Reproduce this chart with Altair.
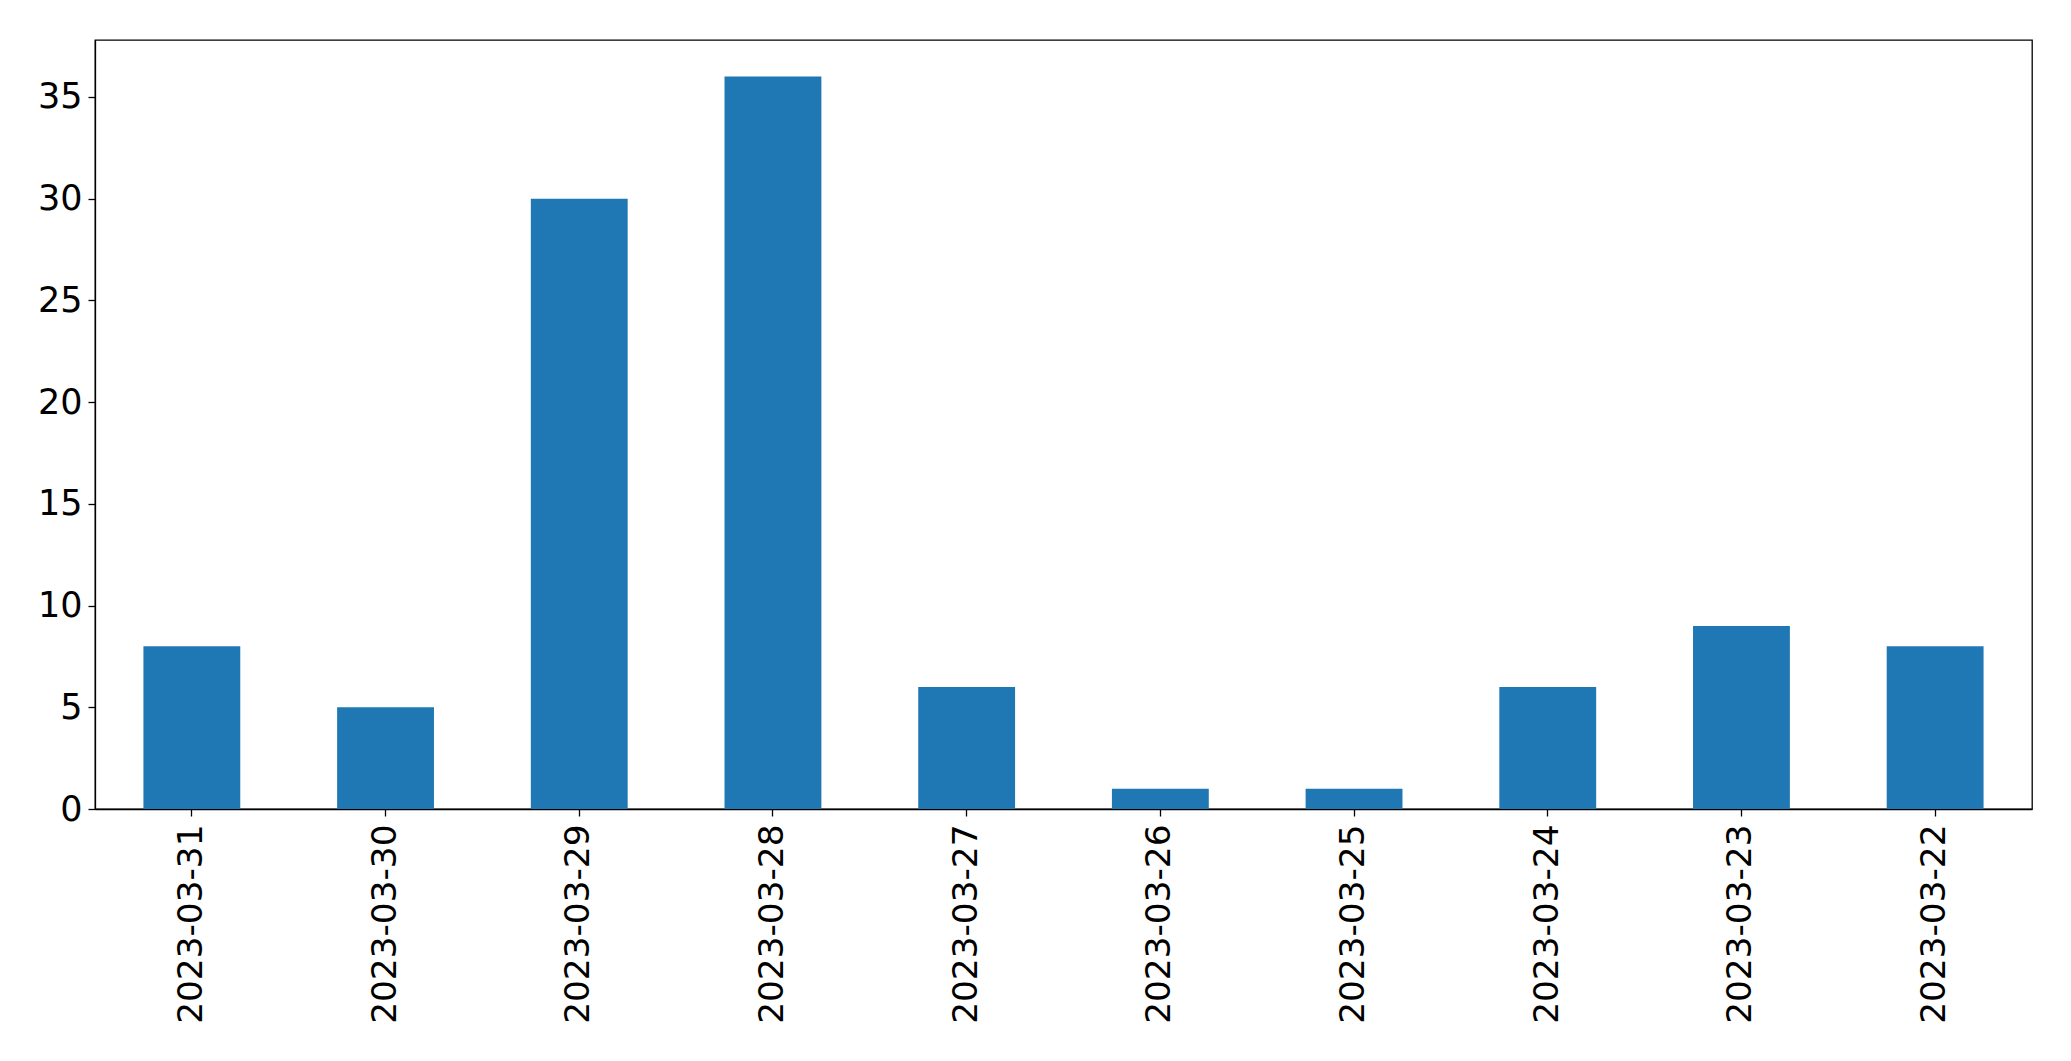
import altair as alt
import pandas as pd

dates = ["2023-03-31", "2023-03-30", "2023-03-29", "2023-03-28", "2023-03-27",
         "2023-03-26", "2023-03-25", "2023-03-24", "2023-03-23", "2023-03-22"]
counts = [8, 5, 30, 36, 6, 1, 1, 6, 9, 8]
y_ticks = [0, 5, 10, 15, 20, 25, 30, 35]

df = pd.DataFrame({"date": dates, "count": counts})

FONT = "DejaVu Sans"

chart = alt.Chart(df).mark_bar(color="#1f77b4").encode(
    x=alt.X("date:N", sort=dates,
            scale=alt.Scale(paddingInner=0.5, paddingOuter=0.25),
            axis=alt.Axis(title=None, labelAngle=270, labelFontSize=34.3,
                          labelFont=FONT, labelColor="black", labelLimit=0,
                          domainColor="black", domainWidth=1.3,
                          tickColor="black", tickWidth=1.3, tickSize=7,
                          labelPadding=8, labelBaseline="middle", labelAlign="right")),
    y=alt.Y("count:Q",
            scale=alt.Scale(domain=[0, 37.8], nice=False, zero=True),
            axis=alt.Axis(title=None, values=y_ticks, grid=False, labelFontSize=35,
                          labelFont=FONT, labelColor="black", labelLimit=0,
                          domainColor="black", domainWidth=1.3,
                          tickColor="black", tickWidth=1.3, tickSize=7,
                          labelPadding=6)),
).properties(
    width=1937,
    height=769,
    autosize=alt.AutoSizeParams(type="none"),
    padding={"left": 87, "top": 32, "right": 30, "bottom": 230},
).configure(
    background="white",
    view=alt.ViewConfig(stroke="black", strokeWidth=1.3),
)

chart.save("out.html", embed_options={"renderer": "svg", "actions": False})
